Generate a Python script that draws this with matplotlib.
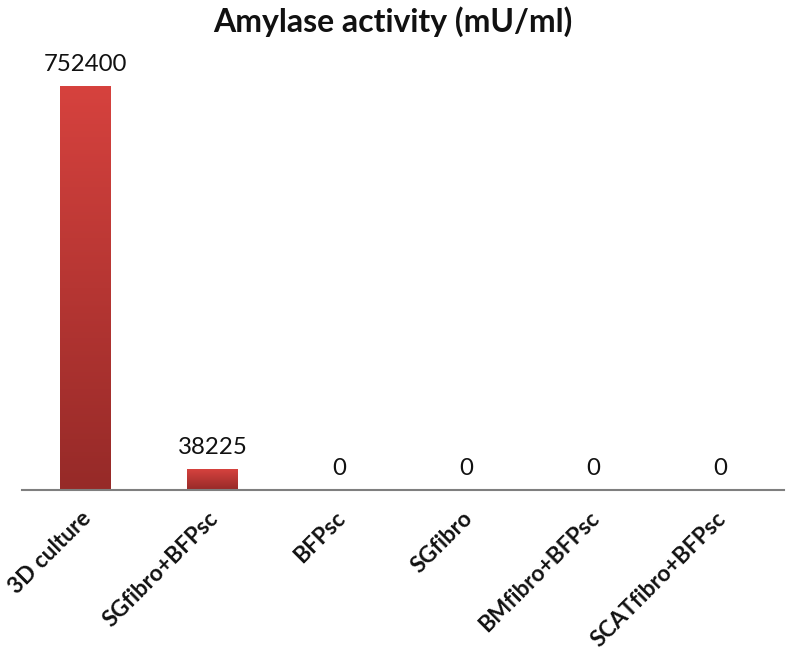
import matplotlib
matplotlib.use("Agg")
import matplotlib.pyplot as plt
import matplotlib.transforms as mtransforms
from matplotlib.colors import LinearSegmentedColormap
import numpy as np

categories = ["3D culture", "SGfibro+BFPsc", "BFPsc", "SGfibro", "BMfibro+BFPsc", "SCATfibro+BFPsc"]
values = [752400, 38225, 0, 0, 0, 0]
title = "Amylase activity (mU/ml)"

plt.rcParams['font.family'] = ['Lato', 'DejaVu Sans']

W, H = 786, 658
fig = plt.figure(figsize=(W / 100, H / 100), dpi=100)
ax_left, ax_right = 22 / W, 784 / W
ax_bottom, ax_top = 1 - 490 / H, 1 - 40 / H
ax = fig.add_axes([ax_left, ax_bottom, ax_right - ax_left, ax_top - ax_bottom])

ymax = max(values) * 450 / 404
ax.set_xlim(-0.5, len(categories) - 0.5)
ax.set_ylim(0, ymax)

cmap = LinearSegmentedColormap.from_list("redgrad", ["#962a28", "#d6423e"])
grad = np.linspace(0, 1, 256).reshape(-1, 1)
bar_w = 0.4
x = np.arange(len(categories))
bars = ax.bar(x, values, width=bar_w, color="none", edgecolor="none")
for b, v in zip(bars, values):
    if v <= 0:
        continue
    x0, y0 = b.get_x(), b.get_y()
    im = ax.imshow(grad, extent=[x0, x0 + b.get_width(), y0, y0 + b.get_height()],
                   origin="lower", aspect="auto", cmap=cmap, zorder=2)
    im.set_clip_path(b)

for xi, v in zip(x, values):
    ax.annotate(f"{v}", (xi, v), xytext=(0, 8), textcoords="offset points",
                ha="center", va="bottom", fontsize=17.3, color="#111111")

for s in ["left", "right", "top"]:
    ax.spines[s].set_visible(False)
ax.spines["bottom"].set_color("#7f7f7f")
ax.spines["bottom"].set_linewidth(1.5)
ax.spines["bottom"].set_zorder(3)
ax.set_yticks([])
ax.set_xticks([])

trans = mtransforms.blended_transform_factory(ax.transData, ax.transAxes)
off = mtransforms.ScaledTranslation(10 / 100, -18 / 100, fig.dpi_scale_trans)
for xi, lab in zip(x, categories):
    ax.text(xi, 0, lab, transform=trans + off, rotation=45, ha="right", va="top",
            fontsize=16.3, fontweight="bold", color="#111111")

fig.text(0.5, 1 - 22 / H, title, ha="center", va="center", fontsize=23,
         fontweight="bold", color="#111111")

fig.savefig("out.png", dpi=100)
